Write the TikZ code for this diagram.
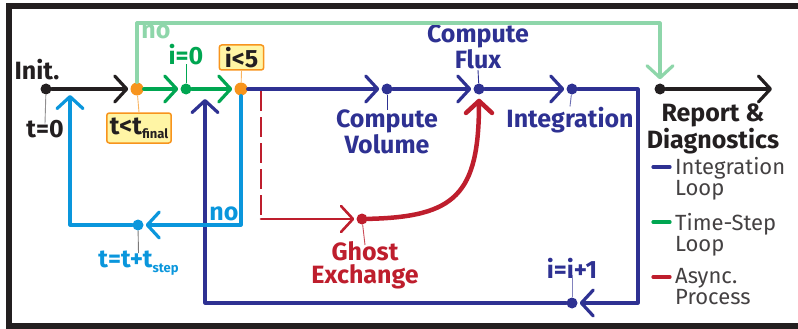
\documentclass[tikz,border=0pt]{standalone}
\usepackage{fontspec}
\setmainfont{Fira Sans}
\usetikzlibrary{arrows.meta}
\definecolor{ink}{HTML}{231F20}
\definecolor{navy}{HTML}{2E3192}
\definecolor{tgreen}{HTML}{00A651}
\definecolor{pale}{HTML}{8ED6AA}
\definecolor{sky}{HTML}{0A96DC}
\definecolor{crimson}{HTML}{BE1E2D}
\definecolor{amber}{HTML}{F7941D}
\definecolor{cream}{HTML}{FFF5A5}
\newcommand\lblfont{\bfseries\fontsize{25}{22}\selectfont}
\newcommand\keyfont{\fontsize{22}{21}\selectfont}
\newcommand\subfont{\bfseries\fontsize{13}{13}\selectfont}
\begin{document}
\begin{tikzpicture}[x=1pt,y=-1pt,
  flow/.style={line width=3.2pt, line cap=round, line join=round,
    -{Straight Barb[length=12pt,width=26pt,round]}, shorten >=2pt},
  dot/.style={circle, fill, inner sep=0pt, minimum size=11pt},
  fork/.style={dot, fill=amber, minimum size=13pt},
  tick/.style={line width=0.9pt},
  lbl/.style={font=\lblfont, align=center, inner sep=0pt},
  cond/.style={draw=amber, fill=cream, line width=1.5pt, rounded corners=2.5pt,
    font=\lblfont, inner xsep=3pt, inner ysep=2pt, text=ink},
  key/.style={font=\keyfont, align=left, inner sep=0pt, text=ink!85},
  keyline/.style={line width=3.2pt, line cap=round}
]
\useasboundingbox (0,0) rectangle (798,329);
% outer frame, open on the right
\draw[ink, line width=6.5pt] (798,6) -| (9,326) -- (798,326);

% points on the flow
\node[dot, fill=ink] (init) at (46,89) {};
\node[fork] (tcond) at (137,89) {};
\node[dot, fill=tgreen] (izero) at (186,89) {};
\node[fork] (icond) at (241,89) {};
\node[dot, fill=navy] (vol) at (387,89) {};
\node[dot, fill=navy] (flux) at (479,89) {};
\node[dot, fill=navy] (integ) at (572,89) {};
\node[dot, fill=ink] (report) at (660,89) {};
\node[dot, fill=navy] (inc) at (572,303) {};
\node[dot, fill=sky] (tstep) at (138,225) {};
\node[dot, fill=crimson] (ghost) at (362,219) {};
\coordinate (out) at (774,89);
\coordinate (iback) at (205,99);
\coordinate (tback) at (70,95);
\coordinate (split) at (261,91);
\coordinate (sbend) at (261,219);

% labels
\node[lbl, text=ink, anchor=base] (initlbl) at (37,80) {Init.};
\node[lbl, text=ink, anchor=base] (t0) at (45,137) {t=0};
\node[cond, minimum height=30pt] (tfinal) at (139,128) {t<t\raisebox{-4pt}{\subfont final}};
\node[lbl, text=tgreen, anchor=base] (izlbl) at (186,65) {i=0};
\node[cond, minimum height=25pt, inner xsep=5.5pt] (ifive) at (241.5,57.5) {i<5};
\node[lbl, text=pale, anchor=base] (nogreen) at (156,39) {no};
\node[lbl, text=navy, anchor=north] (vollbl) at (387,110) {Compute\\Volume};
\node[lbl, text=navy, anchor=south] (fluxlbl) at (478,69) {Compute\\Flux};
\node[lbl, text=navy, anchor=base] (integlbl) at (570,127) {Integration};
\node[lbl, text=ink, anchor=north] (replbl) at (713,104) {Report \&\\Diagnostics};
\node[lbl, text=sky, anchor=base] (tslbl) at (138.5,267) {t=t+t\raisebox{-5pt}{\subfont step}};
\node[lbl, text=sky, anchor=base] (nosky) at (224,220) {no};
\node[lbl, text=crimson, anchor=north, font=\bfseries\fontsize{25}{23.5}\selectfont] (ghostlbl) at (365,241) {Ghost\\Exchange};
\node[lbl, text=navy, anchor=base] (inclbl) at (572,278) {i=i+1};

% leader ticks from points to their labels
\draw[tick, ink!50] (init) -- ([yshift=-4pt]t0.north);
\draw[tick, amber!70] (tcond) -- (tfinal.north);
\draw[tick, tgreen] (izero) -- ([yshift=2pt]izlbl.south);
\draw[tick, amber!70] (icond) -- (ifive.south);
\draw[tick, navy] (vol) -- (vollbl.north);
\draw[tick, navy] (flux) -- ([yshift=-1pt]fluxlbl.south);
\draw[tick, navy!70] (integ) -- (integlbl.north);
\draw[tick, ink!60] (tstep) -- ([yshift=-3pt]tslbl.north);
\draw[tick, crimson!80] (ghost) -- ([yshift=-4pt]ghostlbl.north);
\draw[tick, navy!60] (inc) -- ([yshift=3pt]inclbl.south);

% main flow
\draw[flow, ink] (init) -- (tcond);
\draw[flow, tgreen] (tcond) -- (izero);
\draw[flow, tgreen] (izero) -- (icond);
\draw[flow, navy] (icond) -- (vol);
\draw[flow, navy] (vol) -- (flux);
\draw[flow, navy] (flux) -- (integ);
\draw[flow, navy] (integ) -| (638,303) -- (inc);
\draw[flow, navy, shorten >=0pt] (inc) -| (iback);
\draw[flow, ink] (report) -- (out);
\draw[flow, pale, shorten >=4pt] (tcond) |- (660,23) -- (report);
\draw[flow, sky] (icond) |- (tstep);
\draw[flow, sky, shorten >=0pt] (tstep) -| (tback);

% asynchronous ghost exchange
\draw[crimson, line width=2.6pt, dash pattern=on 20pt off 6pt] (split) -- (sbend);
\draw[flow, crimson, line width=2.6pt] (sbend) -- (ghost);
\draw[flow, crimson, line width=4.5pt, shorten >=4pt] (ghost) .. controls (455,217) and (479,195) .. (flux);

% legend
\draw[keyline, navy] (653,167) -- (670,167);
\draw[keyline, tgreen] (653,222) -- (670,222);
\draw[keyline, crimson] (653,277) -- (670,277);
\node[key, anchor=north west] (k1) at (675,157) {Integration\\Loop};
\node[key, anchor=north west] (k2) at (675,213) {Time-Step\\Loop};
\node[key, anchor=north west] (k3) at (675,268) {Async.\\Process};
\end{tikzpicture}
\end{document}
